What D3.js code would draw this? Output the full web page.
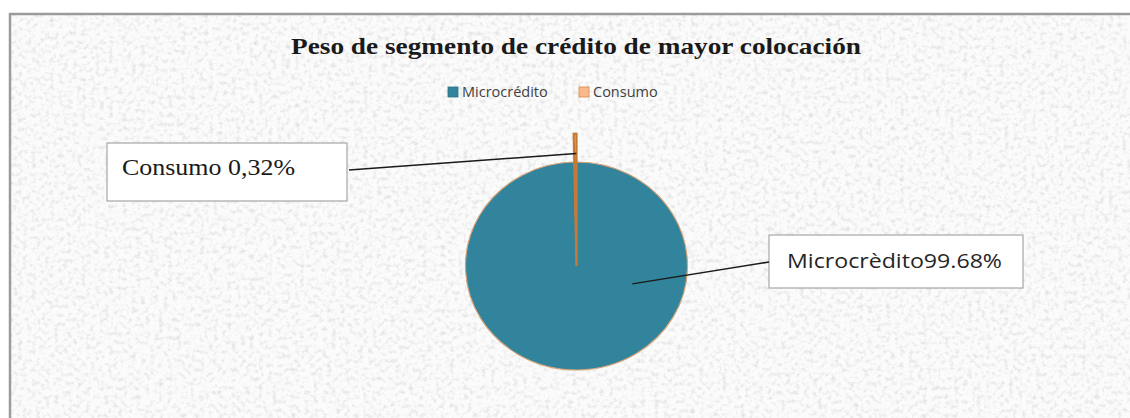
<!DOCTYPE html>
<html><head><meta charset="utf-8">
<script src="https://cdn.jsdelivr.net/npm/d3@7"></script>
<style>html,body{margin:0;padding:0;background:#fff;overflow:hidden}</style>
</head><body>
<svg id="c" width="1130" height="418"></svg>
<script>
const title = "Peso de segmento de crédito de mayor colocación";
const categories = ["Microcrédito", "Consumo"];
const values = [99.68, 0.32];
const labelTexts = ["Microcrèdito99.68%", "Consumo 0,32%"];
const colors = ["#31849b", "#f9b98c"];
const strokes = ["#d7a47a", "#c57a34"];

const svg = d3.select("#c");
const defs = svg.append("defs");
const f = defs.append("filter").attr("id","noise").attr("x",0).attr("y",0).attr("width","100%").attr("height","100%");
f.append("feTurbulence").attr("type","fractalNoise").attr("baseFrequency","0.22").attr("numOctaves",3).attr("seed",11).attr("result","t");
f.append("feColorMatrix").attr("in","t").attr("type","matrix")
 .attr("values","0 0 0 0 0.6  0 0 0 0 0.6  0 0 0 0 0.6  2.2 0 0 0 -1.05");
f.append("feComposite").attr("in2","SourceGraphic").attr("operator","in");

// chart area background
svg.append("rect").attr("x",9).attr("y",13).attr("width",1125).attr("height",410).attr("fill","#fbfbfb");
svg.append("rect").attr("x",9).attr("y",13).attr("width",1125).attr("height",410).attr("fill","#000").attr("filter","url(#noise)").attr("opacity",0.6);
svg.append("path").attr("d","M10,430V14H1135").attr("fill","none").attr("stroke","#9b9b9b").attr("stroke-width",2.5);

// title
svg.append("text").attr("x",576).attr("y",54).attr("text-anchor","middle")
 .attr("font-family","Liberation Serif, Times New Roman, serif").attr("font-weight","bold")
 .attr("font-size",23).attr("fill","#1a1a1a").attr("textLength",570).attr("lengthAdjust","spacingAndGlyphs").text(title);

// legend
const legX = [448, 579];
const lg = svg.append("g");
categories.forEach((c,i)=>{
  lg.append("rect").attr("x",legX[i]).attr("y",87).attr("width",10).attr("height",10)
    .attr("fill",colors[i]).attr("stroke", i===0?"#2a7285":"#d48a50").attr("stroke-width",0.8);
  lg.append("text").attr("x",legX[i]+14).attr("y",97).attr("font-family","Open Sans, sans-serif")
    .attr("font-size",14.5).attr("fill","#404040").text(c);
});

// pie
const cx = 576.5, cy = 266, r = 111, sy = 104/111;
const pie = d3.pie().sort(null).value(d=>d)(values);
const arcMain = d3.arc().innerRadius(0).outerRadius(r);
const arcExt = d3.arc().innerRadius(0).outerRadius(141);
const pg = svg.append("g").attr("transform",`translate(${cx},${cy}) scale(1,${sy})`);
pg.selectAll("path").data(pie).join("path")
  .attr("d",(d,i)=> i===0 ? arcMain(d) : arcExt(d))
  .attr("fill",(d,i)=>colors[i]).attr("stroke",(d,i)=>strokes[i])
  .attr("stroke-width",(d,i)=> i===0?1.2:2.2).attr("vector-effect","non-scaling-stroke");

// label anchor points derived from slice geometry
function polar(a, rad){ return [cx + rad*Math.sin(a), cy - rad*Math.cos(a)*sy]; }
const midC = (pie[1].startAngle+pie[1].endAngle)/2;
const pC = polar(midC, 120);
const pM = polar(1.9, 59);

// Consumo label
svg.append("rect").attr("x",107).attr("y",143).attr("width",240).attr("height",58)
  .attr("fill","#fff").attr("stroke","#a6a6a6").attr("stroke-width",1.2);
svg.append("text").attr("x",122).attr("y",175).attr("font-family","Liberation Serif, Times New Roman, serif")
  .attr("font-size",23).attr("fill","#1a1a1a").attr("textLength",173).attr("lengthAdjust","spacingAndGlyphs").text(labelTexts[1]);
svg.append("line").attr("x1",349).attr("y1",170).attr("x2",pC[0]+1).attr("y2",pC[1])
  .attr("stroke","#1a1a1a").attr("stroke-width",1.5);

// Microcrédito label
svg.append("rect").attr("x",769).attr("y",235).attr("width",254).attr("height",53)
  .attr("fill","#fff").attr("stroke","#a6a6a6").attr("stroke-width",1.2);
svg.append("text").attr("x",787).attr("y",268).attr("font-family","Open Sans, sans-serif")
  .attr("font-size",20).attr("fill","#262626").attr("textLength",215).attr("lengthAdjust","spacingAndGlyphs").text(labelTexts[0]);
svg.append("line").attr("x1",pM[0]).attr("y1",pM[1]).attr("x2",769).attr("y2",262)
  .attr("stroke","#1a1a1a").attr("stroke-width",1.5);
</script>
</body></html>
